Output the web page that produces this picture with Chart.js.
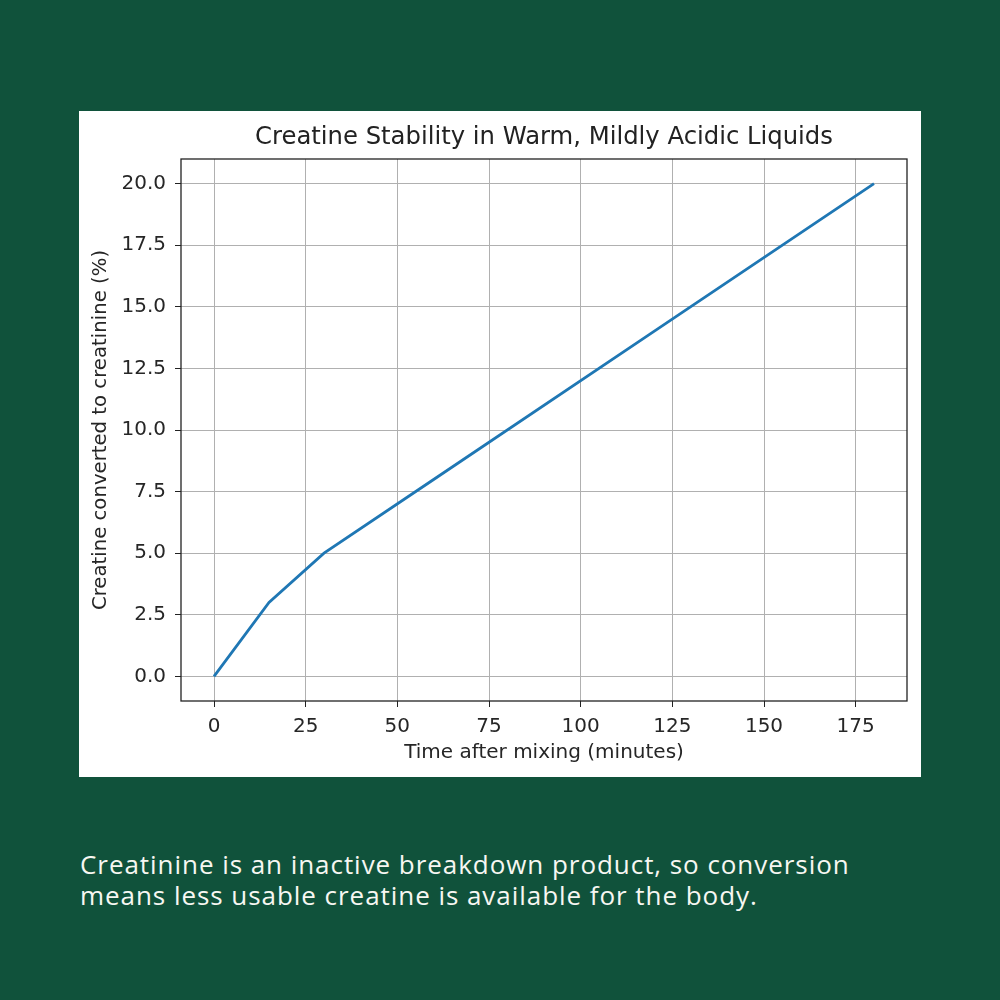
<!DOCTYPE html>
<html>
<head>
<meta charset="utf-8">
<script src="https://cdn.jsdelivr.net/npm/chart.js@4/dist/chart.umd.min.js"></script>
<style>
  html, body { margin: 0; padding: 0; }
  body { width: 1000px; height: 1000px; background: #10523b; position: relative; overflow: hidden; }
  #panel { position: absolute; left: 79px; top: 111px; width: 842px; height: 666px; background: #ffffff; }
  #panel canvas { display: block; }
  #caption { position: absolute; left: 80px; top: 849px; width: 900px; color: #f7f7f2;
    font-family: "Open Sans", "Lato", sans-serif; font-size: 26px; line-height: 31px; letter-spacing: 0.95px; white-space: nowrap; }
</style>
</head>
<body>
<div id="panel"><canvas id="c" width="842" height="666"></canvas></div>
<div id="caption">Creatinine is an inactive breakdown product, so conversion<br>means less usable creatine is available for the body.</div>
<script>
const chartTitle = "Creatine Stability in Warm, Mildly Acidic Liquids";
const xAxisTitle = "Time after mixing (minutes)";
const yAxisTitle = "Creatine converted to creatinine (%)";
const times = [0, 15, 30, 60, 120, 180];
const conversionPct = [0, 3, 5, 8, 14, 20];
const xTicks = [0, 25, 50, 75, 100, 125, 150, 175];
const yTicks = [0, 2.5, 5, 7.5, 10, 12.5, 15, 17.5, 20];

const font = "'DejaVu Sans', sans-serif";

const framePlugin = {
  id: 'frame',
  afterDatasetsDraw(chart) {
    const {ctx, chartArea: a} = chart;
    ctx.save();
    ctx.strokeStyle = '#222';
    ctx.lineWidth = 1.3;
    ctx.strokeRect(a.left, a.top, a.right - a.left, a.bottom - a.top);
    ctx.restore();
  },
  afterDraw(chart) {
    const {ctx, chartArea: a} = chart;
    ctx.save();
    ctx.fillStyle = '#222';
    ctx.font = "24.3px " + font;
    ctx.textAlign = 'center';
    ctx.textBaseline = 'middle';
    ctx.fillText(chartTitle, (a.left + a.right) / 2, 27);
    ctx.restore();
  }
};

new Chart(document.getElementById('c'), {
  type: 'line',
  data: {
    datasets: [{
      data: times.map((t, i) => ({x: t, y: conversionPct[i]})),
      borderColor: '#1f77b4',
      borderWidth: 2.8,
      pointRadius: 0,
      tension: 0,
      fill: false
    }]
  },
  options: {
    responsive: false,
    animation: false,
    devicePixelRatio: 1,
    layout: { padding: { left: 0, top: 48, right: 14, bottom: 0 } },
    plugins: { legend: { display: false }, tooltip: { enabled: false }, title: { display: false } },
    scales: {
      x: {
        type: 'linear',
        min: -9, max: 189,
        afterBuildTicks: (s) => { s.ticks = xTicks.map(v => ({value: v})); },
        afterFit: (s) => { s.height = 76; },
        grid: { color: '#b0b0b0', lineWidth: 1, tickColor: '#222', tickLength: 6, drawOnChartArea: true },
        border: { display: false },
        ticks: { color: '#262626', font: { family: font, size: 20 }, padding: 8, maxRotation: 0, autoSkip: false,
          callback: (v) => String(v) },
        title: { display: true, text: xAxisTitle, color: '#262626', font: { family: font, size: 20 }, padding: { top: 0, bottom: 12 } }
      },
      y: {
        type: 'linear',
        min: -1, max: 21,
        afterBuildTicks: (s) => { s.ticks = yTicks.map(v => ({value: v})); },
        afterFit: (s) => { s.width = 102; },
        grid: { color: '#b0b0b0', lineWidth: 1, tickColor: '#222', tickLength: 6 },
        border: { display: false },
        ticks: { color: '#262626', font: { family: font, size: 20 }, padding: 9, autoSkip: false,
          callback: (v) => Number(v).toFixed(1) },
        title: { display: true, text: yAxisTitle, color: '#262626', font: { family: font, size: 19.7 }, padding: { top: 10, bottom: 0 } }
      }
    }
  },
  plugins: [framePlugin]
});
</script>
</body>
</html>
